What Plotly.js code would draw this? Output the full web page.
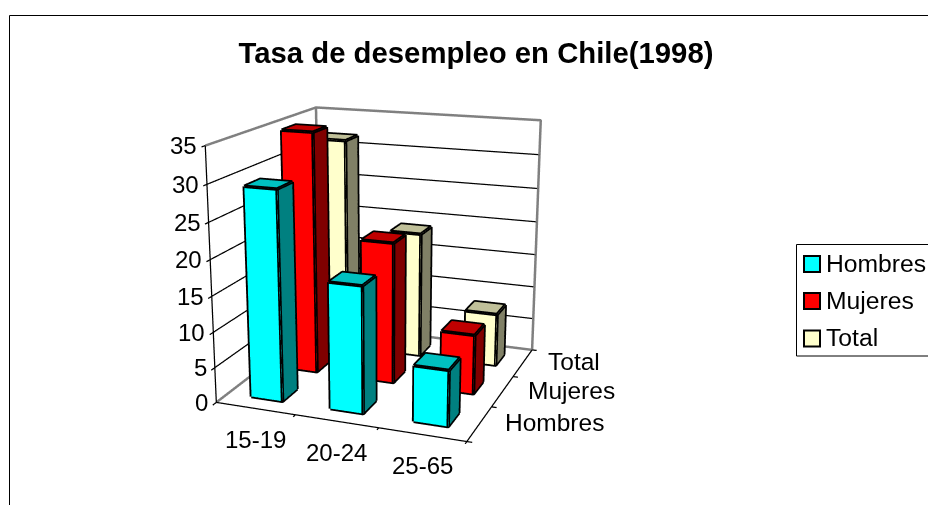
<!DOCTYPE html>
<html><head><meta charset="utf-8">
<script src="https://cdn.plot.ly/plotly-3.0.1.min.js"></script>
<style>html,body{margin:0;padding:0;background:#fff;overflow:hidden}
#frame{position:relative;width:928px;height:505px;overflow:hidden}
#c{position:absolute;left:0;top:-219px;width:928px;height:952px}</style></head>
<body><div id="frame"><div id="c"></div></div>
<script>
const categories=['15-19','20-24','25-65'];
const seriesNames=['Hombres','Mujeres','Total'];
const hombres=[29.3,17.6,7.7];
const mujeres=[34.8,20.3,8.5];
const total=[31.7,18.7,7.8];
const zTicks=[0,5,10,15,20,25,30,35];
const seriesValues=[hombres,mujeres,total];
const frontColors=['#00ffff','#ff0000','#ffffcc'];
const sideColors=['#008080','#800000','#808066'];
const topColors=['#00c0c0','#c00000','#c0c099'];
const W=928,H=952,topOff=219;
const px=v=>v/W, py=v=>1-(v+topOff)/H;
const halfBar=0.2, pad=0.2, zMax=35, zPad=3, tickLen=0.06;
const n=categories.length;
const traces=[];
function lines(segs,color,width){
  const x=[],y=[],z=[];
  segs.forEach(s=>{s.forEach(p=>{x.push(p[0]);y.push(p[1]);z.push(p[2]);});x.push(null);y.push(null);z.push(null);});
  traces.push({type:'scatter3d',mode:'lines',x,y,z,line:{color,width},showlegend:false,hoverinfo:'skip'});
}
function bar(cx,cy,h,s){
  const w=halfBar;
  const x=[cx-w,cx+w,cx+w,cx-w,cx-w,cx+w,cx+w,cx-w];
  const y=[cy-w,cy-w,cy+w,cy+w,cy-w,cy-w,cy+w,cy+w];
  const z=[0,0,0,0,h,h,h,h];
  const F=frontColors[s],S=sideColors[s],T=topColors[s];
  traces.push({type:'mesh3d',x,y,z,
    i:[0,0,4,4,0,0,1,1,2,2,3,3],j:[1,2,5,6,1,5,2,6,3,7,0,4],k:[2,3,6,7,5,4,6,5,7,6,4,7],
    facecolor:[F,F,T,T,F,F,S,S,S,S,S,S],flatshading:true,showscale:false,hoverinfo:'skip',
    lighting:{ambient:1,diffuse:0,specular:0,fresnel:0,roughness:1}});
  const P=i=>[x[i],y[i],z[i]];
  lines([[0,1,2,3,0].map(P),[4,5,6,7,4].map(P),[0,4].map(P),[1,5].map(P),[2,6].map(P),[3,7].map(P)],'#000',7);
}
seriesValues.forEach((vals,s)=>vals.forEach((v,c)=>bar(c+0.5,s+0.5,v,s)));
lines([[[0,0,zMax],[0,n,zMax],[n,n,zMax],[n,n,0],[0,n,0],[0,0,0]],[[0,n,0],[0,n,zMax]]],'#808080',5);
lines(zTicks.slice(1,-1).map(t=>[[0,0,t],[0,n,t],[n,n,t]]),'#000',2.5);
lines([[[0,0,0],[0,0,zMax]],[[0,0,0],[n,0,0],[n,n,0]]],'#000',2.5);
const xt=[],yt=[],zt=[];
for(let i=0;i<=n;i++){xt.push([[i,0,0],[i,-tickLen,0]]);yt.push([[n,i,0],[n+tickLen,i,0]]);}
zTicks.forEach(t=>zt.push([[0,0,t],[0,-tickLen*1.4,t]]));
lines(xt.concat(yt,zt),'#000',2.5);
const lab=size=>({showarrow:false,font:{size,color:'#000',family:'Liberation Sans'}});
const annotations=[];
zTicks.forEach(t=>annotations.push(Object.assign({x:0,y:0,z:t,text:String(t),xanchor:'right',yanchor:'middle',xshift:-6,yshift:0},lab(24))));
categories.forEach((c,i)=>annotations.push(Object.assign({x:i+0.5,y:0,z:0,text:c,xanchor:'center',yanchor:'middle',xshift:0,yshift:-31},lab(24))));
seriesNames.forEach((c,i)=>annotations.push(Object.assign({x:n,y:i+0.5,z:0,text:c,xanchor:'left',yanchor:'middle',xshift:23,yshift:1},lab(24.5))));
const legendRows=[264,301,338.5];
const shapes=[
  {type:'line',xref:'paper',yref:'paper',x0:px(9.5),x1:px(9.5),y0:py(505),y1:py(15.5),line:{color:'#000',width:1}},
  {type:'line',xref:'paper',yref:'paper',x0:px(9.5),x1:1,y0:py(15.5),y1:py(15.5),line:{color:'#000',width:1}},
  {type:'rect',xref:'paper',yref:'paper',x0:px(796.5),x1:px(940),y0:py(356),y1:py(244.5),line:{color:'#000',width:1},fillcolor:'#fff'}
];
const paperAnn=[];
seriesNames.forEach((name,s)=>{
  const r=legendRows[s];
  shapes.push({type:'rect',xref:'paper',yref:'paper',x0:px(804),x1:px(820),y0:py(r+8),y1:py(r-8),line:{color:'#000',width:2},fillcolor:frontColors[s]});
  paperAnn.push({xref:'paper',yref:'paper',x:px(824),y:py(r-1),text:name,xanchor:'left',yanchor:'middle',showarrow:false,font:{size:24.7,color:'#000',family:'Liberation Sans'}});
});
const k=(n+2*pad)/n;
const noAxis={title:{text:''},showticklabels:false,ticks:'',showgrid:false,showbackground:false,showline:false,zeroline:false,showspikes:false};
const layout={width:W,height:H,paper_bgcolor:'#fff',margin:{l:0,r:0,t:0,b:0,autoexpand:false},showlegend:false,
  font:{family:'Liberation Sans',color:'#000',size:24},
  title:{text:'<b>Tasa de desempleo en Chile(1998)</b>',x:px(476),xanchor:'center',xref:'paper',y:py(53),yanchor:'middle',yref:'paper',font:{size:29.3}},
  annotations:paperAnn,shapes,
  scene:{domain:{x:[0,2*383.68/W],y:[0,1]},aspectmode:'manual',
    aspectratio:{x:1.0034*k,y:0.9901*k,z:(zMax+2*zPad)/zMax},
    camera:{eye:{x:1.5399,y:-4.1097,z:1.2486},up:{x:0,y:0,z:1},center:{x:0,y:0,z:0},projection:{type:'perspective'}},
    annotations,
    xaxis:Object.assign({range:[-pad,n+pad]},noAxis),
    yaxis:Object.assign({range:[-pad,n+pad]},noAxis),
    zaxis:Object.assign({range:[-zPad,zMax+zPad]},noAxis)}
};
Plotly.newPlot('c',traces,layout,{displayModeBar:false});
</script></body></html>
